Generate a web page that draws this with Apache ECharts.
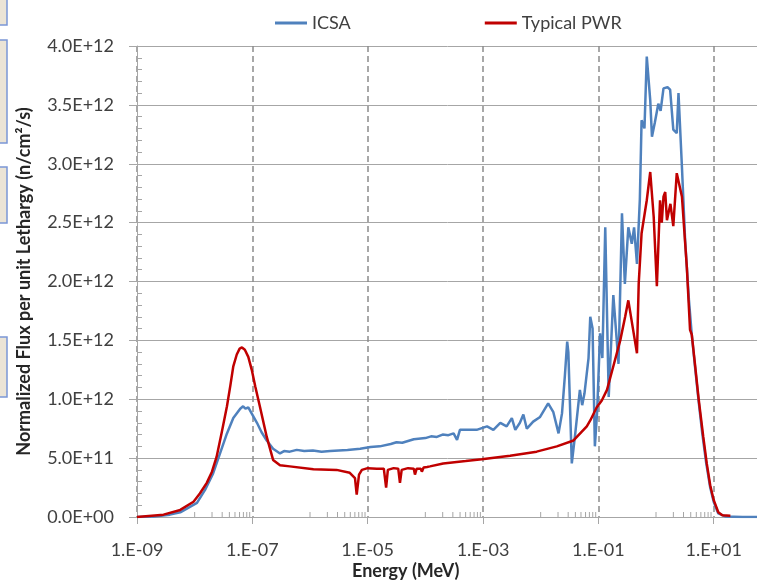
<!DOCTYPE html>
<html>
<head>
<meta charset="utf-8">
<script src="https://cdn.jsdelivr.net/npm/echarts@6/dist/echarts.min.js"></script>
<style>
  html, body { margin: 0; padding: 0; background: #fff; }
  #chart { width: 757px; height: 581px; }
</style>
</head>
<body>
<div id="chart"></div>
<script>
    // energies are stored as log10(E / MeV), flux in units of 1E+12 n/cm2/s
    var FLUX_UNIT = 1e12;
    var LG_MIN = -9;   // axis starts at 1.E-09
    var LG_MAX = 3;

    // ICSA spectrum
    var icsaLgE = [-9.0, -8.7, -8.43, -8.25, -7.96, -7.82, -7.68, -7.56, -7.44, -7.33,
        -7.21, -7.16, -7.12, -7.07, -7.0, -6.92, -6.84, -6.75, -6.64, -6.52,
        -6.45, -6.35, -6.23, -6.1, -5.95, -5.8, -5.65, -5.5, -5.35, -5.13,
        -4.95, -4.79, -4.6, -4.5, -4.4, -4.2, -4.0, -3.9, -3.8, -3.7,
        -3.6, -3.51, -3.45, -3.4, -3.11, -2.93, -2.82, -2.7, -2.59, -2.5,
        -2.44, -2.36, -2.3, -2.24, -2.13, -2.01, -1.87, -1.78, -1.69, -1.63,
        -1.58, -1.54, -1.52, -1.46, -1.4, -1.32, -1.28, -1.24, -1.17, -1.14,
        -1.1, -1.06, -1.02, -0.97, -0.93, -0.88, -0.82, -0.74, -0.65, -0.59,
        -0.54, -0.48, -0.42, -0.38, -0.33, -0.28, -0.25, -0.2, -0.16, -0.1,
        -0.07, -0.02, 0.04, 0.08, 0.13, 0.2, 0.245, 0.3, 0.36, 0.39,
        0.45, 0.505, 0.57, 0.62, 0.68, 0.74, 0.8, 0.87, 0.94, 1.0,
        1.08, 1.2, 1.5, 3.0];
    var icsaFlux = [0.0, 0.005, 0.02, 0.04, 0.12, 0.23, 0.37, 0.54, 0.71, 0.84,
        0.92, 0.94, 0.92, 0.93, 0.87, 0.80, 0.72, 0.65, 0.58, 0.54,
        0.56, 0.555, 0.57, 0.56, 0.565, 0.555, 0.56, 0.565, 0.57, 0.58,
        0.595, 0.60, 0.62, 0.635, 0.63, 0.66, 0.67, 0.685, 0.68, 0.70,
        0.695, 0.71, 0.655, 0.74, 0.74, 0.77, 0.74, 0.80, 0.77, 0.84,
        0.74, 0.80, 0.87, 0.75, 0.81, 0.85, 0.965, 0.89, 0.71, 0.88,
        1.20, 1.49, 1.40, 0.455, 0.71, 1.08, 0.95, 1.05, 1.35, 1.70,
        1.60, 0.60, 0.90, 1.56, 1.35, 2.46, 1.02, 1.885, 1.30, 2.58,
        1.98, 2.46, 2.32, 2.46, 2.15, 2.70, 3.37, 3.30, 3.91, 3.54,
        3.23, 3.35, 3.51, 3.45, 3.64, 3.65, 3.63, 3.29, 3.26, 3.60,
        2.97, 2.35, 1.85, 1.55, 1.26, 0.98, 0.72, 0.46, 0.25, 0.13,
        0.03, 0.005, 0.0, 0.0];

    // Typical PWR spectrum
    var pwrLgE = [-9.0, -8.54, -8.25, -8.02, -7.91, -7.79, -7.7, -7.62, -7.53, -7.44,
        -7.38, -7.33, -7.27, -7.22, -7.18, -7.13, -7.07, -7.01, -6.95, -6.87,
        -6.75, -6.64, -6.52, -6.35, -5.94, -5.54, -5.31, -5.22, -5.19, -5.15,
        -5.1, -5.0, -4.84, -4.72, -4.68, -4.65, -4.55, -4.47, -4.44, -4.41,
        -4.3, -4.2, -4.18, -4.15, -4.08, -4.06, -4.03, -3.97, -3.95, -3.92,
        -3.69, -3.3, -3.02, -2.53, -2.07, -1.72, -1.43, -1.2, -1.14, -1.03,
        -0.94, -0.85, -0.74, -0.62, -0.535, -0.48, -0.33, -0.3, -0.25, -0.16,
        -0.1, -0.04, 0.015, 0.07, 0.1, 0.13, 0.16, 0.19, 0.25, 0.3,
        0.36, 0.45, 0.535, 0.59, 0.62, 0.68, 0.74, 0.77, 0.82, 0.88,
        0.94, 1.0, 1.08, 1.15, 1.29];
    var pwrFlux = [0.0, 0.02, 0.06, 0.13, 0.20, 0.29, 0.385, 0.51, 0.72, 0.94,
        1.12, 1.28, 1.38, 1.43, 1.44, 1.42, 1.36, 1.25, 1.11, 0.94,
        0.68, 0.485, 0.44, 0.43, 0.405, 0.40, 0.375, 0.33, 0.19, 0.36,
        0.40, 0.415, 0.41, 0.41, 0.25, 0.40, 0.415, 0.41, 0.29, 0.40,
        0.415, 0.41, 0.36, 0.41, 0.41, 0.385, 0.42, 0.425, 0.41, 0.43,
        0.455, 0.475, 0.49, 0.52, 0.555, 0.60, 0.65, 0.77, 0.82, 0.93,
        0.99, 1.08, 1.28, 1.50, 1.70, 1.84, 1.39, 1.98, 2.41, 2.69,
        2.93, 2.55, 1.96, 2.69, 2.50, 2.72, 2.76, 2.52, 2.66, 2.47,
        2.92, 2.72, 2.12, 1.59, 1.55, 1.28, 1.0, 0.88, 0.68, 0.455,
        0.27, 0.145, 0.04, 0.015, 0.01];

    function pairs(lg, flux) {
        return lg.map(function (v, i) { return [v - LG_MIN, flux[i] * FLUX_UNIT]; });
    }

    // Excel style minor ticks on the log axis (1..9 x 10^n in every second decade)
    var minorTicks = [];
    for (var d = LG_MIN + 1; d < LG_MAX; d += 2) {
        for (var n = 1; n <= 9; n++) {
            minorTicks.push([d + Math.log10(n) - LG_MIN, 0]);
        }
    }

    function sciLabel(v) {
        if (v === 0) return '0.0E+00';
        var e = Math.floor(Math.log10(v) + 1e-9);
        var m = v / Math.pow(10, e);
        return m.toFixed(1) + 'E' + (e < 0 ? '-' : '+') + String(Math.abs(e)).padStart(2, '0');
    }

    function energyLabel(v) {
        var e = Math.round(v + LG_MIN);
        return '1.E' + (e < 0 ? '-' : '+') + String(Math.abs(e)).padStart(2, '0');
    }

    var FONT = 'Lato';
    var chart = echarts.init(document.getElementById('chart'));
    chart.setOption({
        animation: false,
        textStyle: { fontFamily: FONT },
        legend: {
            data: ['ICSA', 'Typical PWR'],
            left: 270,
            top: 9,
            icon: 'rect',
            itemWidth: 32,
            itemHeight: 3,
            itemGap: 134,
            textStyle: { fontSize: 18, color: '#404040', fontFamily: FONT }
        },
        grid: { left: 137, right: -72, top: 46, bottom: 64, outerBoundsMode: 'none', containLabel: false },
        xAxis: {
            type: 'value',
            min: 0,
            max: LG_MAX - LG_MIN,
            interval: 2,
            axisLine: { lineStyle: { color: '#a6a6a6', width: 1 } },
            axisTick: { show: true, length: 7, lineStyle: { color: '#a6a6a6' } },
            axisLabel: { formatter: energyLabel, margin: 24, fontSize: 18, color: '#404040', fontFamily: FONT },
            splitLine: { show: true, lineStyle: { color: '#8c8c8c', width: 1.5, type: [6, 4] } }
        },
        yAxis: [{
            type: 'value',
            min: 0,
            max: 4 * FLUX_UNIT,
            interval: 0.5 * FLUX_UNIT,
            name: 'Normalized Flux per unit Lethargy (n/cm²/s)',
            nameLocation: 'middle',
            nameGap: 104,
            nameTextStyle: { fontSize: 18, fontWeight: 'bold', color: '#262626', fontFamily: FONT },
            axisLine: { show: true, lineStyle: { color: '#a6a6a6' } },
            axisTick: { show: true, length: 8, lineStyle: { color: '#a6a6a6' } },
            axisLabel: { formatter: sciLabel, margin: 23, fontSize: 18, color: '#404040', fontFamily: FONT },
            splitLine: { lineStyle: { color: '#a6a6a6', width: 1 } }
        }, {
            type: 'value',
            position: 'left',
            min: 0,
            max: 4 * FLUX_UNIT,
            interval: 0.1 * FLUX_UNIT,
            axisLine: { show: false },
            axisTick: { show: true, inside: true, length: 5, lineStyle: { color: '#a6a6a6' } },
            axisLabel: { show: false },
            splitLine: { show: false }
        }],
        graphic: [
            { type: 'text', left: 352, top: 562, style: { text: 'Energy (MeV)', fontSize: 18, fontWeight: 'bold', fill: '#262626', fontFamily: FONT } },
            { type: 'rect', shape: { x: -3, y: -3, width: 10, height: 28 }, style: { fill: '#ebe4d6', stroke: '#7b96d6', lineWidth: 1.5 } },
            { type: 'rect', shape: { x: -3, y: 40, width: 10, height: 103 }, style: { fill: '#ebe4d6', stroke: '#7b96d6', lineWidth: 1.5 } },
            { type: 'rect', shape: { x: -3, y: 167, width: 10, height: 56 }, style: { fill: '#ebe4d6', stroke: '#7b96d6', lineWidth: 1.5 } },
            { type: 'rect', shape: { x: -3, y: 337, width: 10, height: 60 }, style: { fill: '#ebe4d6', stroke: '#7b96d6', lineWidth: 1.5 } }
        ],
        series: [{
            name: 'minor ticks',
            type: 'custom',
            silent: true,
            clip: false,
            data: minorTicks,
            renderItem: function (params, api) {
                var p = api.coord([api.value(0), 0]);
                return {
                    type: 'line',
                    shape: { x1: p[0], y1: p[1], x2: p[0], y2: p[1] - 5 },
                    style: { stroke: '#a6a6a6', lineWidth: 1 }
                };
            }
        }, {
            name: 'ICSA',
            type: 'line',
            symbol: 'none',
            data: pairs(icsaLgE, icsaFlux),
            lineStyle: { color: '#4f81bd', width: 2.5 },
            itemStyle: { color: '#4f81bd' }
        }, {
            name: 'Typical PWR',
            type: 'line',
            symbol: 'none',
            data: pairs(pwrLgE, pwrFlux),
            lineStyle: { color: '#c00000', width: 2.5 },
            itemStyle: { color: '#c00000' }
        }]
    });
</script>
</body>
</html>
